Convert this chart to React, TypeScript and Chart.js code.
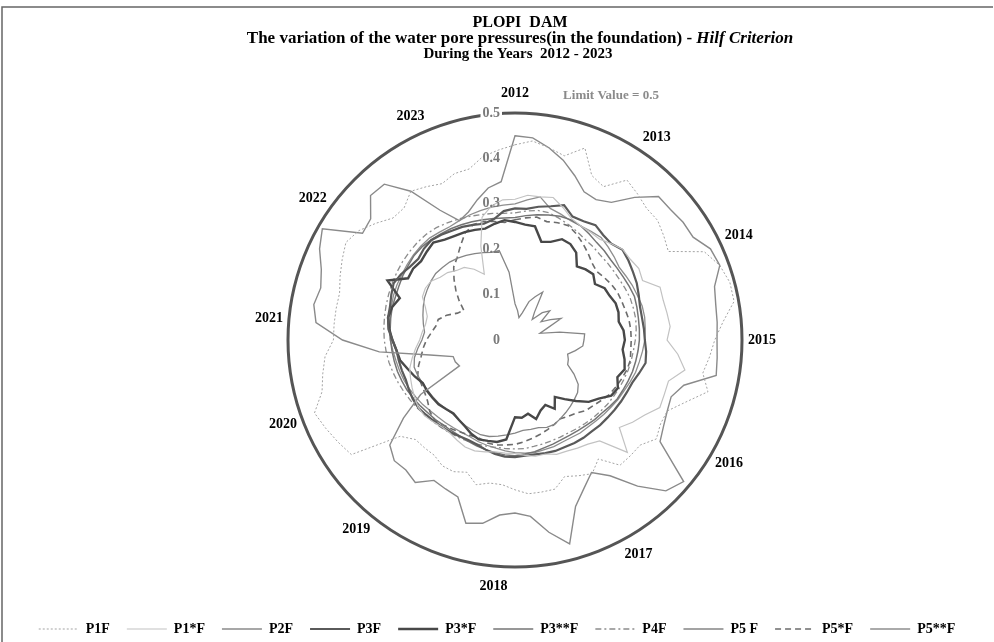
import React, { useEffect, useRef } from 'react';
import { Chart, registerables } from 'chart.js';

Chart.register(...registerables);

const N_POINTS = 72;
const YEARS = ['2012', '2013', '2014', '2015', '2016', '2017', '2018', '2019', '2020', '2021', '2022', '2023'];
const YEAR_INDEX = [0, 7, 13, 18, 24, 30, 37, 44, 50, 55, 61, 67];
const TICK_VALUES = [0, 0.1, 0.2, 0.3, 0.4, 0.5];
const TICK_LABELS = ['0', '0.1', '0.2', '0.3', '0.4', '0.5'];
const LIMIT_VALUE = 0.5;

const P1F = [0.43,0.44,0.43,0.42,0.45,0.40,0.39,0.43,0.42,0.41,
 0.41,0.40,0.39,0.46,0.48,0.49,0.49,0.46,0.44,0.43,
 0.42,0.44,0.40,0.37,0.37,0.38,0.36,0.36,0.36,0.32,
 0.34,0.33,0.32,0.34,0.34,0.34,0.33,0.32,0.32,0.33,
 0.31,0.32,0.32,0.31,0.31,0.31,0.33,0.44,0.45,0.46,
 0.47,0.44,0.43,0.42,0.40,0.40,0.40,0.40,0.41,0.42,
 0.43,0.42,0.40,0.38,0.38,0.40,0.39,0.38,0.39,0.39,
 0.41,0.42];

const P1sF = [0.31,0.32,0.32,0.325,0.31,0.295,0.29,0.29,0.29,0.30,
 0.31,0.31,0.315,0.31,0.34,0.338,0.34,0.343,0.335,0.36,
 0.38,0.35,0.35,0.352,0.33,0.316,0.30,0.35,0.29,0.28,
 0.275,0.27,0.268,0.26,0.26,0.255,0.25,0.25,0.25,0.255,
 0.26,0.26,0.255,0.25,0.25,0.255,0.26,0.26,0.255,0.25,
 0.245,0.24,0.23,0.22,0.21,0.205,0.20,0.20,0.21,0.225,
 0.228,0.226,0.215,0.21,0.20,0.195,0.18,0.16,0.22,0.28,
 0.30,0.31];

const P2F = [0.45,0.447,0.43,0.41,0.385,0.36,0.357,0.37,0.41,0.447,
 0.447,0.452,0.453,0.475,0.48,0.455,0.449,0.447,0.445,0.447,
 0.45,0.385,0.366,0.37,0.378,0.39,0.485,0.47,0.42,0.365,
 0.337,0.36,0.39,0.465,0.43,0.39,0.381,0.387,0.41,0.418,
 0.368,0.362,0.357,0.383,0.374,0.376,0.36,0.30,0.24,0.135,
 0.14,0.141,0.19,0.30,0.38,0.44,0.45,0.443,0.454,0.475,
 0.49,0.41,0.415,0.45,0.448,0.40,0.33,0.29,0.30,0.32,
 0.34,0.35];

const P3F = [0.29,0.29,0.298,0.305,0.316,0.30,0.302,0.309,0.302,0.30,
 0.309,0.305,0.30,0.296,0.29,0.285,0.284,0.285,0.286,0.29,
 0.292,0.283,0.275,0.272,0.27,0.268,0.266,0.265,0.263,0.263,
 0.262,0.26,0.26,0.258,0.256,0.256,0.258,0.258,0.255,0.25,
 0.245,0.243,0.245,0.248,0.25,0.253,0.256,0.26,0.26,0.258,
 0.256,0.258,0.26,0.262,0.27,0.28,0.284,0.285,0.29,0.295,
 0.29,0.282,0.278,0.284,0.287,0.283,0.278,0.275,0.27,0.265,
 0.27,0.285];

const P3sF = [0.26,0.255,0.254,0.224,0.23,0.245,0.244,0.235,0.212,0.22,
 0.225,0.215,0.228,0.23,0.236,0.236,0.232,0.24,0.242,0.238,
 0.245,0.25,0.24,0.25,0.245,0.225,0.212,0.19,0.17,0.153,
 0.175,0.158,0.165,0.18,0.165,0.172,0.17,0.22,0.228,0.23,
 0.233,0.228,0.22,0.215,0.211,0.215,0.22,0.222,0.224,0.224,
 0.235,0.245,0.257,0.262,0.27,0.278,0.284,0.28,0.27,0.31,
 0.272,0.274,0.27,0.275,0.28,0.27,0.265,0.262,0.258,0.254,
 0.26,0.265];

const P3ssF = [0.27,0.275,0.28,0.285,0.29,0.292,0.29,0.285,0.28,0.278,
 0.275,0.275,0.276,0.278,0.28,0.278,0.276,0.275,0.274,0.272,
 0.27,0.268,0.265,0.262,0.26,0.255,0.25,0.248,0.245,0.243,
 0.242,0.242,0.244,0.246,0.25,0.252,0.255,0.254,0.252,0.25,
 0.248,0.246,0.244,0.244,0.245,0.248,0.25,0.254,0.258,0.262,
 0.265,0.268,0.27,0.272,0.274,0.276,0.278,0.28,0.28,0.282,
 0.285,0.287,0.29,0.29,0.288,0.285,0.283,0.28,0.277,0.274,
 0.272,0.27];

const P4F = [0.28,0.285,0.29,0.29,0.285,0.28,0.275,0.27,0.268,0.265,
 0.265,0.265,0.266,0.268,0.27,0.27,0.27,0.268,0.265,0.262,
 0.26,0.258,0.255,0.253,0.25,0.248,0.245,0.243,0.24,0.238,
 0.236,0.236,0.236,0.237,0.238,0.24,0.24,0.24,0.24,0.242,
 0.244,0.246,0.248,0.25,0.252,0.255,0.258,0.262,0.266,0.27,
 0.274,0.278,0.282,0.285,0.288,0.29,0.292,0.294,0.296,0.298,
 0.30,0.302,0.303,0.304,0.304,0.302,0.298,0.294,0.29,0.286,
 0.283,0.28];

const P5F = [0.08,0.065,0.05,0.062,0.09,0.105,0.122,0.075,0.059,0.085,
 0.10,0.07,0.09,0.112,0.075,0.057,0.10,0.154,0.152,0.15,
 0.135,0.12,0.125,0.128,0.15,0.17,0.18,0.185,0.19,0.195,
 0.20,0.205,0.205,0.20,0.20,0.20,0.205,0.21,0.215,0.22,
 0.222,0.22,0.218,0.215,0.213,0.215,0.218,0.22,0.222,0.225,
 0.228,0.23,0.225,0.215,0.205,0.20,0.205,0.21,0.215,0.22,
 0.223,0.226,0.228,0.226,0.224,0.22,0.215,0.21,0.205,0.20,
 0.20,0.15];

const P5sF = [0.265,0.27,0.275,0.27,0.275,0.278,0.27,0.26,0.25,0.24,
 0.235,0.24,0.245,0.249,0.25,0.252,0.255,0.256,0.256,0.256,
 0.258,0.255,0.25,0.245,0.24,0.232,0.225,0.22,0.21,0.205,
 0.20,0.205,0.21,0.215,0.22,0.225,0.23,0.232,0.235,0.235,
 0.23,0.232,0.235,0.24,0.245,0.25,0.245,0.235,0.23,0.228,
 0.228,0.22,0.21,0.203,0.195,0.185,0.177,0.175,0.16,0.14,
 0.13,0.15,0.17,0.19,0.21,0.222,0.24,0.26,0.27,0.27,
 0.265,0.26];

const P5ssF = [0.30,0.31,0.32,0.30,0.295,0.29,0.29,0.292,0.295,0.29,
 0.285,0.28,0.282,0.285,0.287,0.29,0.29,0.288,0.286,0.282,
 0.278,0.275,0.27,0.265,0.262,0.258,0.255,0.252,0.25,0.25,
 0.248,0.248,0.25,0.25,0.252,0.25,0.248,0.245,0.242,0.24,
 0.238,0.235,0.235,0.236,0.238,0.24,0.243,0.248,0.252,0.256,
 0.26,0.263,0.266,0.27,0.275,0.278,0.28,0.282,0.285,0.287,
 0.288,0.29,0.292,0.293,0.293,0.29,0.288,0.29,0.293,0.295,
 0.297,0.298];

const SERIES = [
  { label: 'P1F', data: P1F, color: '#a3a3a3', width: 1, dash: [2, 2] },
  { label: 'P1*F', data: P1sF, color: '#c2c2c2', width: 1.2, dash: [] },
  { label: 'P2F', data: P2F, color: '#8a8a8a', width: 1.4, dash: [] },
  { label: 'P3F', data: P3F, color: '#5a5a5a', width: 2.2, dash: [] },
  { label: 'P3*F', data: P3sF, color: '#484848', width: 2.4, dash: [] },
  { label: 'P3**F', data: P3ssF, color: '#747474', width: 1.5, dash: [] },
  { label: 'P4F', data: P4F, color: '#8c8c8c', width: 1.3, dash: [6, 3, 2, 3] },
  { label: 'P5 F', data: P5F, color: '#858585', width: 1.3, dash: [] },
  { label: 'P5*F', data: P5sF, color: '#6c6c6c', width: 1.6, dash: [6, 4] },
  { label: 'P5**F', data: P5ssF, color: '#8e8e8e', width: 1.3, dash: [] },
];

const CATEGORIES = Array.from({ length: N_POINTS }, (_, i) => {
  const j = YEAR_INDEX.indexOf(i);
  return j >= 0 ? YEARS[j] : '';
});

const SERIF = '"Liberation Serif", "DejaVu Serif", serif';

const decorPlugin = {
  id: 'decor',
  beforeDraw(chart: any) {
    const ctx = chart.ctx;
    ctx.save();
    ctx.strokeStyle = '#666';
    ctx.lineWidth = 1.5;
    ctx.beginPath();
    ctx.moveTo(2, 642);
    ctx.lineTo(2, 7);
    ctx.lineTo(993, 7);
    ctx.stroke();
    ctx.restore();
  },
  afterDatasetsDraw(chart: any) {
    const ctx = chart.ctx;
    const r = chart.scales.r;
    ctx.save();
    ctx.font = 'bold 14px ' + SERIF;
    ctx.textAlign = 'right';
    ctx.textBaseline = 'middle';
    TICK_VALUES.forEach((v, i) => {
      const y = r.yCenter - r.getDistanceFromCenterForValue(v);
      const x = r.xCenter - 15;
      if (v === LIMIT_VALUE) {
        const w = ctx.measureText(TICK_LABELS[i]).width;
        ctx.fillStyle = '#fff';
        ctx.fillRect(x - w - 2, y - 6, w + 4, 12);
      }
      ctx.fillStyle = '#7a7a7a';
      ctx.fillText(TICK_LABELS[i], x, y);
    });
    ctx.font = 'bold 14px ' + SERIF;
    ctx.textAlign = 'center';
    ctx.fillStyle = '#000';
    YEAR_INDEX.forEach((idx, i) => {
      const p = r.getPointPosition(idx, r.drawingArea + 20);
      ctx.fillText(YEARS[i], p.x, p.y);
    });
    ctx.font = 'bold 13px ' + SERIF;
    ctx.fillStyle = '#8a8a8a';
    ctx.textAlign = 'center';
    ctx.fillText('Limit Value = ' + LIMIT_VALUE, r.xCenter + 96, r.yCenter - r.drawingArea - 17);
    ctx.restore();
  },
  afterDraw(chart: any) {
    const ctx = chart.ctx;
    const cx = 520;
    ctx.save();
    ctx.fillStyle = '#000';
    ctx.textBaseline = 'alphabetic';
    ctx.textAlign = 'center';
    ctx.font = 'bold 16px ' + SERIF;
    ctx.fillText('PLOPI  DAM', cx, 27);
    const partA = 'The variation of the water pore pressures(in the foundation) - ';
    const partB = 'Hilf Criterion';
    ctx.font = 'bold 17px ' + SERIF;
    const wA = ctx.measureText(partA).width;
    ctx.font = 'italic bold 17px ' + SERIF;
    const wB = ctx.measureText(partB).width;
    const x0 = cx - (wA + wB) / 2;
    ctx.textAlign = 'left';
    ctx.font = 'bold 17px ' + SERIF;
    ctx.fillText(partA, x0, 43);
    ctx.font = 'italic bold 17px ' + SERIF;
    ctx.fillText(partB, x0 + wA, 43);
    ctx.textAlign = 'center';
    ctx.font = 'bold 15px ' + SERIF;
    ctx.fillText('During the Years  2012 - 2023', cx - 2, 58);
    ctx.restore();
  },
};

export default function App() {
  const ref = useRef<HTMLCanvasElement | null>(null);

  useEffect(() => {
    document.body.style.margin = '0';
    const canvas = ref.current;
    if (!canvas) return;
    const chart = new Chart(canvas, {
      type: 'radar',
      data: {
        labels: CATEGORIES,
        datasets: SERIES.map((s) => ({
          label: s.label,
          data: s.data,
          borderColor: s.color,
          backgroundColor: s.color,
          borderWidth: s.width,
          borderDash: s.dash,
          pointRadius: 0,
          pointHoverRadius: 0,
          fill: false,
          tension: 0,
          clip: false,
        })),
      },
      options: {
        responsive: true,
        maintainAspectRatio: false,
        animation: false,
        layout: { padding: { top: 70, bottom: -4, left: 10, right: 10 } },
        plugins: {
          title: { display: false },
          tooltip: { enabled: false },
          legend: {
            position: 'bottom',
            labels: {
              usePointStyle: true,
              pointStyle: 'line',
              pointStyleWidth: 40,
              padding: 17,
              color: '#000',
              font: { family: SERIF, weight: 'bold', size: 14 },
              generateLabels: (chart: any) => {
                const items = (Chart as any).defaults.plugins.legend.labels.generateLabels(chart);
                items.forEach((it: any) => {
                  const ds = chart.data.datasets[it.datasetIndex];
                  it.lineDash = ds.borderDash;
                  it.strokeStyle = ds.borderColor;
                  it.lineWidth = ds.borderWidth;
                  it.pointStyle = 'line';
                });
                return items;
              },
            },
          },
        },
        scales: {
          r: {
            min: 0,
            max: 0.5,
            startAngle: 0,
            ticks: { display: false, stepSize: 0.1 },
            angleLines: { display: false },
            pointLabels: { display: false },
            grid: {
              circular: true,
              color: (c: any) => (c.tick && c.tick.value === LIMIT_VALUE ? '#555' : 'rgba(0,0,0,0)'),
              lineWidth: (c: any) => (c.tick && c.tick.value === LIMIT_VALUE ? 3 : 0),
            },
            afterFit: (scale: any) => {
              scale.xCenter = 515;
              scale.yCenter = 340;
              scale.drawingArea = 227;
            },
          },
        },
      },
      plugins: [decorPlugin],
    } as any);
    return () => chart.destroy();
  }, []);

  return (
    <div style={{ width: 994, height: 642, position: 'relative' }}>
      <canvas ref={ref} />
    </div>
  );
}
